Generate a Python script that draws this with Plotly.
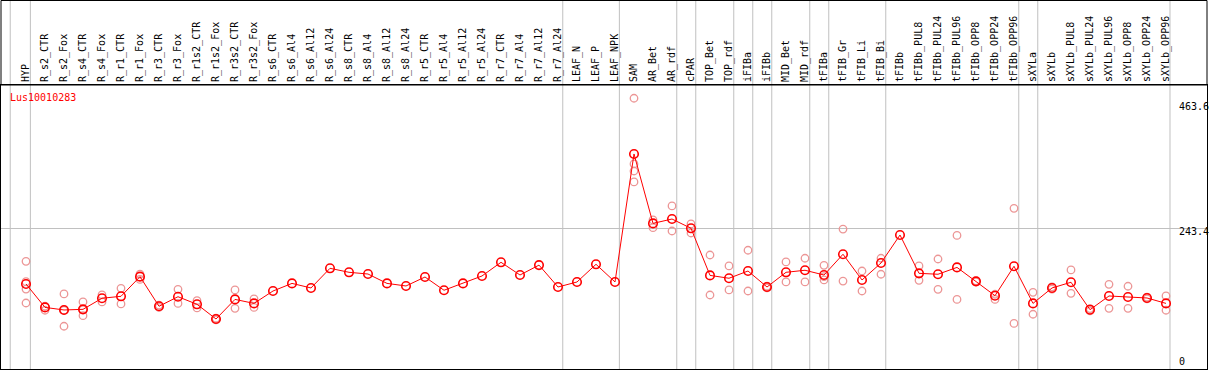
import plotly.graph_objects as go

categories = ["HYP", "R_s2_CTR", "R_s2_Fox", "R_s4_CTR", "R_s4_Fox", "R_r1_CTR", "R_r1_Fox",
              "R_r3_CTR", "R_r3_Fox", "R_r1s2_CTR", "R_r1s2_Fox", "R_r3s2_CTR", "R_r3s2_Fox",
              "R_s6_CTR", "R_s6_Al4", "R_s6_Al12", "R_s6_Al24", "R_s8_CTR", "R_s8_Al4",
              "R_s8_Al12", "R_s8_Al24", "R_r5_CTR", "R_r5_Al4", "R_r5_Al12", "R_r5_Al24",
              "R_r7_CTR", "R_r7_Al4", "R_r7_Al12", "R_r7_Al24", "LEAF_N", "LEAF_P", "LEAF_NPK",
              "SAM", "AR_Bet", "AR_rdf", "cPAR", "TOP_Bet", "TOP_rdf", "iFIBa", "iFIBb",
              "MID_Bet", "MID_rdf", "tFIBa", "tFIB_Gr", "tFIB_Li", "tFIB_Bi", "tFIBb",
              "tFIBb_PUL8", "tFIBb_PUL24", "tFIBb_PUL96", "tFIBb_OPP8", "tFIBb_OPP24",
              "tFIBb_OPP96", "sXYLa", "sXYLb", "sXYLb_PUL8", "sXYLb_PUL24", "sXYLb_PUL96",
              "sXYLb_OPP8", "sXYLb_OPP24", "sXYLb_OPP96"]

mean_values = [146, 105, 100.5, 101.6, 121, 124.4, 158.8, 107, 123.7, 110.4, 84.7, 119, 112,
               133.7, 147, 139, 173.4, 166.4, 163.4, 147, 142.5, 158.2, 135, 147, 160,
               183.9, 161.7, 179, 140.7, 149.5, 180.4, 149.5,
               373.5, 252, 259.7, 243.4, 161, 156, 168.7, 140.7, 166.4, 170, 161.7, 198,
               153, 182.7, 231.7,
               164.6, 163, 175, 150.6, 125.5, 177, 112, 139, 149, 101, 125, 123.2, 121.5, 112]

rep_a = [185.7, 107, 128.5, 114.5, 127, 138.4, 163.4, 109, 136.6, 116.8, 86, 135.5, 120,
         None, None, None, None, None, None, None, None, None, None, None, None,
         None, None, None, None, None, None, None,
         471, 258, 282.5, 251, 196.7, 177.5, 205, 142, 184.5, 191, 178.7, 242,
         168.7, 191, None,
         177.5, 189.7, 231, 151.5, 128, 278.4, 131.4, 141, 170.5, 103, 145.4, 142, 123, 125]

rep_b = [150, 100, 72, 90.5, 114.5, 111, 154, 105, 112, 104, 83, 103.4, 105,
         None, None, None, None, None, None, None, None, None, None, None, None,
         None, None, None, None, None, None, None,
         356, 244.5, 238.7, 235.2, 126.7, 135.5, 133.7, 139, 149.5, 149.5, 153, 151,
         133.7, 163, None,
         152.4, 136.6, 119, 149.5, 119, 77, 93, 137, 129.7, 99, 103.4, 103.4, 120, 100]

rep_c = [137, None, 100, 101, None, None, None, None, None, None, None, None, None,
         None, None, None, None, None, None, None, None, None, None, None, None,
         None, None, None, None, None, None, None,
         343.7, None, None, None, None, None, None, None, None, None, 159, None,
         None, None, None,
         None, None, None, None, None, None, None, None, None, None, None, None, None, None]

rep_d = [112.7, None, None, None, None, None, None, None, None, None, None, None, None,
         None, None, None, None, None, None, None, None, None, None, None, None,
         None, None, None, None, None, None, None,
         324.5, None, None, None, None, None, None, None, None, None, None, None,
         None, None, None,
         None, None, None, None, None, None, None, None, None, None, None, None, None, None]

group_boundaries = [-0.83, 0.23, 28.25, 31.23, 34.25, 35.25, 37.25, 38.25, 39.25,
                    41.25, 42.25, 45.25, 52.25, 53.25, 60.21]

y_tick_labels = ["463.6", "243.4", "0"]
gene_name = "Lus10010283"

x_idx = list(range(len(categories)))

W, H = 1209, 370
ML, MR, MT, MB = 1, 2, 85, 1
plot_h = H - MT - MB
plot_w = W - ML - MR

fig = go.Figure()

for reps in (rep_a, rep_b, rep_c, rep_d):
    fig.add_trace(go.Scatter(
        x=x_idx, y=reps, mode="markers",
        marker=dict(symbol="circle-open", size=7.5, color="rgb(236,150,150)",
                    line=dict(width=1.3, color="rgb(236,150,150)")),
        hoverinfo="skip", showlegend=False))

fig.add_trace(go.Scatter(
    x=x_idx, y=mean_values, mode="lines+markers",
    line=dict(color="#ff0000", width=1),
    marker=dict(symbol="circle-open", size=8.5, color="#ff0000",
                line=dict(width=1.6, color="#ff0000")),
    showlegend=False))

shapes = []
for b in group_boundaries:
    shapes.append(dict(type="line", xref="x", yref="paper", x0=b, x1=b,
                       y0=0, y1=1 + MT / plot_h, line=dict(color="#c0c0c0", width=1),
                       layer="below"))
# header box border
shapes.append(dict(type="rect", xref="paper", yref="paper", x0=0, x1=1,
                   y0=1, y1=1 + (MT - 0.5) / plot_h, line=dict(color="black", width=1)))

def px_to_paper_y(ypx):
    return (H - MB - ypx) / plot_h

def px_to_paper_x(xpx):
    return (xpx - ML) / plot_w

annotations = [
    dict(text=gene_name, xref="paper", yref="paper", x=px_to_paper_x(8), y=px_to_paper_y(97.5),
         xanchor="left", yanchor="middle", showarrow=False,
         font=dict(family="DejaVu Sans Mono", size=10, color="#ff0000")),
]
for lab, ypx in zip(y_tick_labels, [106.7, 231.7, 361.7]):
    annotations.append(dict(text=lab, xref="paper", yref="paper", x=px_to_paper_x(1177),
                            y=px_to_paper_y(ypx), xanchor="left", yanchor="middle",
                            showarrow=False,
                            font=dict(family="DejaVu Sans Mono", size=10, color="black")))

x0px = 26.0
step = 19.0
fig.update_layout(
    width=W, height=H,
    margin=dict(l=ML, r=MR, t=MT, b=MB, pad=0, autoexpand=False),
    plot_bgcolor="white", paper_bgcolor="white",
    shapes=shapes, annotations=annotations,
    xaxis=dict(range=[(ML - x0px) / step, (W - MR - x0px) / step], automargin=False,
               tickvals=x_idx, ticktext=categories, side="top", tickangle=-90,
               showgrid=False, zeroline=False, ticks="", ticklen=0,
               tickfont=dict(family="DejaVu Sans Mono", size=10, color="black"),
               showline=True, mirror=True, linecolor="black", linewidth=1),
    yaxis=dict(range=[-2.8, 494.2], tickvals=[243.4], showticklabels=False, automargin=False,
               showgrid=True, gridcolor="#c0c0c0", gridwidth=1, zeroline=False,
               showline=True, mirror=True, linecolor="black", linewidth=1),
)

fig.write_html("out.html", config={"displayModeBar": False},
               post_script="document.body.style.margin='0';document.body.style.overflow='hidden';")
